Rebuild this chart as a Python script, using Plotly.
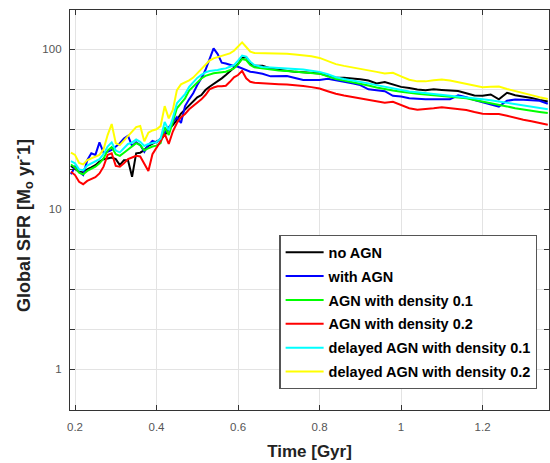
import plotly.graph_objects as go

# time grid [Gyr]
time = [0.19, 0.20, 0.21, 0.22, 0.23, 0.24, 0.25, 0.26, 0.27, 0.28,
        0.29, 0.30, 0.31, 0.32, 0.33, 0.34, 0.35, 0.36, 0.37, 0.38,
        0.39, 0.40, 0.41, 0.42, 0.43, 0.44, 0.45, 0.46, 0.47, 0.48,
        0.49, 0.50, 0.51, 0.52, 0.53, 0.54, 0.55, 0.56, 0.57, 0.58,
        0.59, 0.60, 0.61, 0.62, 0.63,
        0.64, 0.66, 0.68, 0.70, 0.72, 0.74, 0.76, 0.78, 0.80,
        0.82, 0.84, 0.86, 0.88, 0.90, 0.92, 0.94, 0.96, 0.98, 1.00,
        1.02, 1.04, 1.06, 1.08, 1.10, 1.12, 1.14, 1.16, 1.18, 1.20,
        1.22, 1.24, 1.26, 1.28, 1.30, 1.32, 1.34, 1.36]

no_agn = [18.6, 17.9, 17.1, 16.9, 17.7, 18.2, 18.8, 19.8, 20.5, 20.7,
          21.0, 20.5, 18.8, 20.2, 20.2, 15.9, 22.3, 22.5, 23.4, 24.8,
          25.5, 26.2, 27.2, 29.0, 31.5, 33.5, 36.0, 39.5, 42.0, 44.7,
          46.9, 49.9, 51.6, 55.4, 58.1, 60.4, 63.4, 65.6, 68.8, 72.2,
          75.7, 80.5, 88.0, 89.0, 81.3,
          78.5, 78.5, 75.5, 74.2, 73.0, 72.0, 71.5, 71.0, 70.3,
          68.0, 66.5, 66.2, 65.7, 64.8, 63.6, 61.0, 62.3, 59.8, 58.0,
          57.0, 55.8, 55.3, 56.0, 55.5, 54.9, 54.6, 53.0, 51.3, 51.0,
          52.0, 48.5, 53.3, 51.5, 50.5, 49.5, 48.0, 47.0]

with_agn = [16.5, 18.4, 17.1, 16.3, 20.2, 22.3, 21.8, 26.1, 22.5, 22.8,
            23.4, 24.6, 25.8, 27.6, 28.7, 24.8, 26.1, 25.1, 22.8, 25.1,
            26.7, 26.1, 27.6, 30.0, 32.5, 35.0, 37.5, 34.5, 44.0, 48.5,
            52.9, 59.6, 65.6, 73.9, 85.4, 101.0, 93.0, 82.2, 81.3, 79.4,
            78.3, 77.5, 75.7, 73.9, 72.2,
            71.5, 70.0, 67.5, 67.3, 67.8, 66.0, 64.0, 64.0, 64.0,
            65.3, 64.0, 62.3, 61.0, 59.5, 56.0, 55.2, 54.5, 51.0, 50.5,
            49.3, 48.7, 48.5, 48.5, 48.5, 48.5, 51.4, 50.0, 48.0, 46.5,
            45.0, 43.7, 47.5, 48.4, 48.2, 48.0, 47.5, 45.5]

agn_d01 = [19.0, 18.2, 16.9, 16.5, 17.3, 17.8, 18.4, 19.3, 20.7, 23.2,
           24.4, 22.0, 21.5, 22.5, 23.6, 24.6, 25.8, 25.1, 23.2, 24.0,
           24.6, 24.9, 25.8, 32.5, 29.0, 35.0, 42.6, 45.8, 49.2, 55.0,
           58.5, 62.0, 65.5, 68.0, 69.4, 70.5, 71.1, 71.7, 72.2, 73.9,
           75.7, 80.5, 86.6, 85.4, 79.4,
           76.8, 75.5, 74.5, 73.5, 72.8, 72.0, 71.5, 71.0, 70.2,
           67.5, 65.0, 63.5, 62.2, 61.0, 59.2, 57.5, 56.0, 55.0, 54.0,
           53.0, 52.5, 52.0, 51.6, 51.0, 50.4, 49.8, 49.2, 48.0, 47.0,
           46.0, 45.0, 43.8, 42.6, 41.7, 41.1, 40.4, 39.8]

agn_d02 = [17.1, 16.3, 14.8, 14.3, 15.0, 15.4, 15.8, 16.7, 18.4, 21.8,
           22.3, 18.6, 18.4, 19.3, 20.5, 21.0, 21.5, 21.3, 19.0, 17.3,
           22.0, 24.0, 26.5, 29.5, 25.5, 30.5, 34.5, 37.5, 39.3, 42.0,
           44.1, 45.8, 48.5, 51.6, 56.0, 57.5, 58.5, 58.5, 59.0, 62.4,
           66.6, 68.8, 73.0, 65.6, 62.4,
           61.6, 61.0, 60.6, 60.3, 60.0, 59.5, 58.8, 57.8, 56.6,
           54.5, 52.5, 51.2, 50.2, 49.2, 48.0, 47.0, 46.2, 46.8, 44.5,
           42.7, 41.8, 42.0, 42.6, 43.2, 42.8, 42.2, 41.6, 40.4, 39.4,
           39.3, 39.3, 38.3, 37.1, 36.2, 35.4, 34.5, 33.6]

delayed_d01 = [19.9, 19.3, 17.7, 17.5, 18.7, 19.3, 19.8, 20.5, 22.0, 24.6,
               26.1, 23.2, 22.6, 24.0, 25.5, 26.0, 27.2, 26.3, 24.8, 25.5,
               25.8, 26.2, 27.5, 35.0, 31.0, 37.0, 45.8, 49.2, 52.3, 58.0,
               62.0, 66.0, 69.0, 71.5, 72.8, 73.2, 73.9, 75.0, 75.7, 77.5,
               79.4, 84.6, 91.0, 89.5, 83.3,
               79.4, 77.3, 76.8, 76.3, 76.0, 75.5, 74.5, 73.2, 72.0,
               69.5, 66.6, 65.0, 63.8, 62.4, 61.0, 59.5, 58.0, 56.6, 55.3,
               54.2, 53.6, 53.0, 52.3, 51.7, 51.1, 50.5, 49.9, 49.2, 48.5,
               47.8, 47.0, 46.2, 45.5, 44.7, 43.9, 42.9, 42.1]

delayed_d02 = [22.5, 21.8, 19.4, 19.0, 20.2, 20.7, 21.1, 21.8, 23.6, 29.0,
               34.0, 25.8, 25.1, 26.7, 28.3, 30.5, 32.5, 33.0, 26.5, 30.0,
               31.0, 31.5, 33.0, 44.0, 36.9, 41.6, 55.4, 60.2, 61.8, 63.7,
               66.3, 70.5, 75.0, 80.2, 84.6, 87.4, 89.1, 90.4, 91.7, 94.0,
               97.6, 103.3, 110.0, 103.0, 96.2,
               94.6, 94.5, 94.2, 94.0, 93.5, 92.5, 91.3, 90.0, 88.0,
               84.0, 80.5, 78.5, 77.0, 75.5, 73.8, 72.0, 70.3, 71.0, 67.5,
               64.3, 62.8, 62.8, 63.8, 64.6, 63.5, 62.0, 61.0, 59.3, 57.8,
               58.2, 58.3, 56.3, 54.5, 53.0, 51.5, 50.0, 48.7]

series_names = ["no AGN", "with AGN", "AGN with density 0.1", "AGN with density 0.2",
                "delayed AGN with density 0.1", "delayed AGN with density 0.2"]
series_values = [no_agn, with_agn, agn_d01, agn_d02, delayed_d01, delayed_d02]
series_colors = ["#000000", "#0000ff", "#00ff00", "#ff0000", "#00ffff", "#ffff00"]

x_tickvals = [0.2, 0.4, 0.6, 0.8, 1.0, 1.2]
x_ticktext = ["0.2", "0.4", "0.6", "0.8", "1", "1.2"]
y_tickvals = [1, 10, 100]
y_ticktext = ["1", "10", "100"]
y_minorvals = [10 ** (k / 4) for k in range(-1, 9) if k % 4 != 0]

x_title = "<b>Time [Gyr]</b>"
y_title = "<b>Global SFR [M<sub>o</sub> yr<sup>-</sup>1]</b>"

fig = go.Figure()
for i, (name, vals, color) in enumerate(zip(series_names, series_values, series_colors)):
    fig.add_trace(go.Scatter(x=time, y=vals, mode="lines", name="<b>" + name + "</b>",
                             legendgroup="g%d" % i,
                             line=dict(color=color, width=2)))

font_family = "Liberation Sans, Arial, sans-serif"
axis_common = dict(showline=True, linecolor="#333333", linewidth=1.3, mirror="allticks",
                   ticks="inside", ticklen=5, tickcolor="#333333", automargin=False,
                   showgrid=True, gridcolor="#e3e3e3", gridwidth=1, zeroline=False,
                   tickfont=dict(family=font_family, size=11.5, color="#555555"))

fig.update_layout(
    width=550, height=463,
    margin=dict(l=70, r=1, t=10, b=53),
    paper_bgcolor="white", plot_bgcolor="white",
    font=dict(family=font_family),
    showlegend=True,
    legend=dict(x=0.437, y=0.4375, xanchor="left", yanchor="top",
                bgcolor="white", bordercolor="#555555", borderwidth=1.3,
                font=dict(family=font_family, size=14.5, color="#000000"),
                itemwidth=38, tracegroupgap=2),
    xaxis=dict(range=[0.1877, 1.363], tickvals=x_tickvals, ticktext=x_ticktext,
               ticklabelstandoff=6,
               title=dict(text=x_title, standoff=13,
                          font=dict(family=font_family, size=17, color="#222222")),
               **axis_common),
    yaxis=dict(type="log", range=[-0.256, 2.244], tickvals=y_tickvals, ticktext=y_ticktext,
               ticklabelstandoff=5,
               minor=dict(tickvals=y_minorvals, ticks="inside", ticklen=5, tickcolor="#333333",
                          showgrid=True, gridcolor="#e3e3e3", gridwidth=1),
               **axis_common),
    annotations=[dict(text=y_title, textangle=-90, xref="paper", yref="paper",
                      x=-0.098, y=0.5, xanchor="center", yanchor="middle", showarrow=False,
                      yshift=-16,
                      font=dict(family=font_family, size=18, color="#222222"))],
)

fig.write_html("out.html", config={"displayModeBar": False},
               post_script="document.body.style.margin='0';document.body.style.overflow='hidden';")
